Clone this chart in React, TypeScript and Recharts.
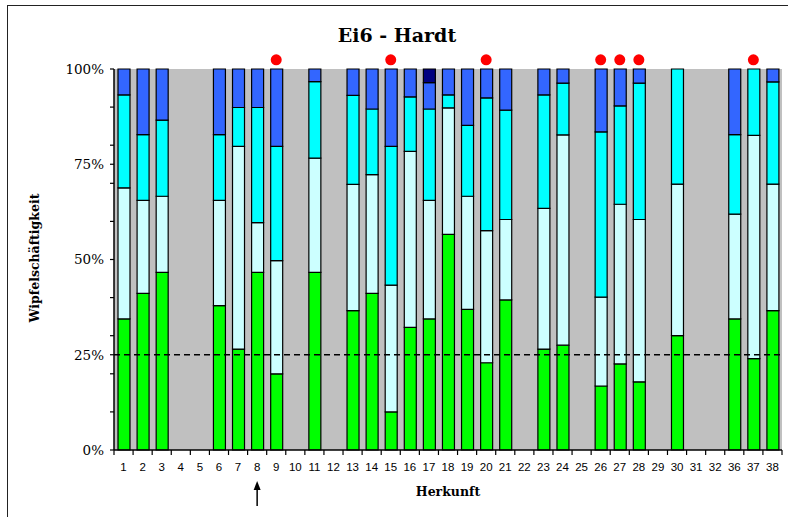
import React from 'react';
import { BarChart, Bar, XAxis, YAxis, CartesianGrid, ReferenceLine, ReferenceDot } from 'recharts';

const origins = ['1','2','3','4','5','6','7','8','9','10','11','12','13','14','15','16','17','18','19','20','21','22','23','24','25','26','27','28','29','30','31','32','36','37','38'];
const green = [34.4, 41.1, 46.6, 0, 0, 37.9, 26.5, 46.6, 20.0, 0, 46.6, 0, 36.6, 41.1, 10.0, 32.2, 34.4, 56.6, 36.9, 22.9, 39.4, 0, 26.5, 27.5, 0, 16.8, 22.6, 17.9, 0, 30.0, 0, 0, 34.4, 24.0, 36.6];
const pale = [34.4, 24.4, 20.0, 0, 0, 27.6, 53.2, 13.1, 29.7, 0, 30.0, 0, 33.1, 31.2, 33.3, 46.2, 31.1, 33.2, 29.7, 34.7, 21.1, 0, 36.9, 55.2, 0, 23.3, 41.9, 42.6, 0, 39.8, 0, 0, 27.5, 58.6, 33.2];
const cyan = [24.4, 17.3, 20.0, 0, 0, 17.3, 10.2, 30.2, 30.0, 0, 20.1, 0, 23.4, 17.2, 36.4, 14.3, 24.0, 3.4, 18.6, 34.8, 28.7, 0, 29.8, 13.6, 0, 43.4, 25.8, 35.8, 0, 30.2, 0, 0, 20.9, 17.4, 26.8];
const blue = [6.8, 17.2, 13.4, 0, 0, 17.2, 10.1, 10.1, 20.3, 0, 3.3, 0, 6.9, 10.5, 20.3, 7.3, 6.9, 6.8, 14.8, 7.6, 10.8, 0, 6.8, 3.7, 0, 16.5, 9.7, 3.7, 0, 0, 0, 0, 17.2, 0, 3.4];
const navy = [0, 0, 0, 0, 0, 0, 0, 0, 0, 0, 0, 0, 0, 0, 0, 0, 3.6, 0, 0, 0, 0, 0, 0, 0, 0, 0, 0, 0, 0, 0, 0, 0, 0, 0, 0];

const markedOrigins = ['9', '15', '20', '26', '27', '28', '37'];
const arrowOrigin = '8';
const yTicks = [0, 0.1, 0.2, 0.25, 0.3, 0.4, 0.5, 0.6, 0.7, 0.75, 0.8, 0.9, 1];
const thresholdShare = 0.25;
const markerLevel = 1.024;

const data = origins.map((o, i) => ({
  origin: o,
  green: green[i],
  pale: pale[i],
  cyan: cyan[i],
  blue: blue[i],
  navy: navy[i],
}));

const W = 788;
const H = 517;
const margin = { top: 69, right: 6, bottom: 37, left: 54 };
const Y_AXIS_W = 60;
const X_AXIS_H = 30;
const TICK_SIZE = 5;
const TICK_MARGIN = 2;
const plotW = W - margin.left - Y_AXIS_W - margin.right;
const band = plotW / origins.length;

const XTick = (props: any) => {
  const { x, y, payload, index } = props;
  const axisY = y - TICK_SIZE - TICK_MARGIN;
  const last = index === origins.length - 1;
  return (
    <g>
      <line x1={x - band / 2} x2={x - band / 2} y1={axisY} y2={axisY + TICK_SIZE} stroke="#000" strokeWidth={1.2} />
      {last && (
        <line x1={x + band / 2} x2={x + band / 2} y1={axisY} y2={axisY + TICK_SIZE} stroke="#000" strokeWidth={1.2} />
      )}
      <text x={x} y={y + 14} textAnchor="middle" fontFamily="'Liberation Sans Narrow', 'Liberation Sans', Arial, sans-serif" fontSize={11.5} fill="#000">
        {payload.value}
      </text>
      {payload.value === arrowOrigin && (
        <g>
          <line x1={x} x2={x} y1={y + 31} y2={y + 49} stroke="#000" strokeWidth={1.5} />
          <polygon points={`${x},${y + 24} ${x - 3.5},${y + 33} ${x + 3.5},${y + 33}`} fill="#000" />
        </g>
      )}
    </g>
  );
};

const yFormat = (v: number) => {
  const p = Math.round(v * 100);
  return p % 25 === 0 ? `${p}%` : '';
};

export default function App() {
  return (
    <div style={{ position: 'fixed', left: 0, top: 0, width: W, height: H, overflow: 'hidden', background: '#fff' }}>
      <div style={{ position: 'absolute', left: 7, top: 5, width: 820, height: 600, border: '1.5px solid #222', boxSizing: 'border-box' }} />
      <div style={{ position: 'absolute', left: 0, width: 794, top: 23, textAlign: 'center', fontFamily: "'DejaVu Serif', serif", fontWeight: 'bold', fontSize: 19, lineHeight: '24px', color: '#000' }}>
        Ei6 - Hardt
      </div>
      <div style={{ position: 'absolute', left: 448, top: 484, transform: 'translateX(-50%)', fontFamily: "'DejaVu Serif', serif", fontWeight: 'bold', fontSize: 12.5, lineHeight: '16px', whiteSpace: 'nowrap', color: '#000' }}>
        Herkunft
      </div>
      <div style={{ position: 'absolute', left: 35, top: 258, transform: 'translate(-50%, -50%) rotate(-90deg)', fontFamily: "'DejaVu Serif', serif", fontWeight: 'bold', fontSize: 12.5, lineHeight: '16px', whiteSpace: 'nowrap', color: '#000' }}>
        Wipfelschäftigkeit
      </div>
      <div style={{ position: 'absolute', left: 0, top: 0 }}>
        <BarChart width={W} height={H} data={data} margin={margin} stackOffset="expand" barSize={12}>
          <CartesianGrid horizontal={false} vertical={false} fill="#c0c0c0" />
          <XAxis
            dataKey="origin"
            interval={0}
            height={X_AXIS_H}
            tickLine={false}
            tickSize={TICK_SIZE}
            tickMargin={TICK_MARGIN}
            axisLine={{ stroke: '#000', strokeWidth: 1.5 }}
            tick={<XTick />}
          />
          <YAxis
            width={Y_AXIS_W}
            domain={[0, 1]}
            ticks={yTicks}
            interval={0}
            tickFormatter={yFormat}
            tickSize={4}
            tickMargin={6}
            axisLine={{ stroke: '#000', strokeWidth: 1.5 }}
            tickLine={{ stroke: '#000', strokeWidth: 1.2 }}
            tick={{ fill: '#000', fontSize: 13.5, fontFamily: "'DejaVu Serif', serif" }}
          />
          <Bar dataKey="green" stackId="s" fill="#00ff00" stroke="#000" strokeWidth={1.2} isAnimationActive={false} />
          <Bar dataKey="pale" stackId="s" fill="#ccffff" stroke="#000" strokeWidth={1.2} isAnimationActive={false} />
          <Bar dataKey="cyan" stackId="s" fill="#00ffff" stroke="#000" strokeWidth={1.2} isAnimationActive={false} />
          <Bar dataKey="blue" stackId="s" fill="#3366ff" stroke="#000" strokeWidth={1.2} isAnimationActive={false} />
          <Bar dataKey="navy" stackId="s" fill="#000080" stroke="#000" strokeWidth={1.2} isAnimationActive={false} />
          <ReferenceLine y={thresholdShare} stroke="#000" strokeWidth={1.5} strokeDasharray="6 4" />
          {markedOrigins.map((o) => (
            <ReferenceDot key={o} x={o} y={markerLevel} r={5.5} fill="#ff0000" stroke="none" ifOverflow="visible" />
          ))}
        </BarChart>
      </div>
    </div>
  );
}
